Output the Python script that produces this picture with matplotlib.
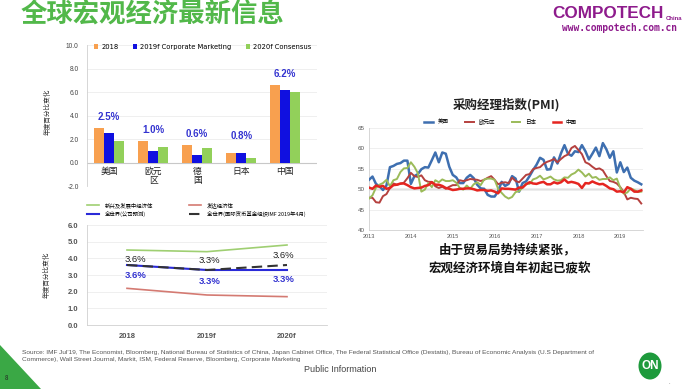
import matplotlib
matplotlib.use("Agg")
import matplotlib.pyplot as plt
import matplotlib.patches as mpatches
import numpy as np

plt.rcParams["font.family"] = ["Noto Sans CJK SC", "DejaVu Sans"]

# ── GDP growth by region (bar chart) ──────────────────────────────────────
regions      = ["美国", "欧元\n区", "德\n国", "日本", "中国"]
gdp_series   = ["2018", "2019f Corporate Marketing", "2020f Consensus"]
gdp_2018     = [2.9, 1.8, 1.5, 0.8, 6.6]
gdp_2019f    = [2.5, 1.0, 0.6, 0.8, 6.2]
gdp_2020f    = [1.8, 1.3, 1.2, 0.4, 6.0]
gdp_callouts = ["2.5%", "1.0%", "0.6%", "0.8%", "6.2%"]

# ── World growth (line chart) ─────────────────────────────────────────────
years      = ["2018", "2019f", "2020f"]
emerging   = [4.5, 4.4, 4.8]
advanced   = [2.2, 1.8, 1.7]
world_corp = [3.6, 3.3, 3.3]
world_imf  = [3.6, 3.3, 3.6]
line_names = ["新兴及发展中经济体", "全世界(公司预测)", "发达经济体",
              "全世界(国际货币基金组织IMF 2019年4月)"]

# ── Manufacturing PMI, monthly Jan 2013 - Jul 2019 ────────────────────────
pmi_years = ["2013", "2014", "2015", "2016", "2017", "2018", "2019"]
pmi_names = ["美国", "欧元区", "日本", "中国"]
pmi_us = [52.3, 53.1, 51.3, 50.7, 49.8, 50.9, 55.4, 55.7, 56.2, 56.4, 57.0, 57.0,
          51.3, 53.2, 53.7, 54.9, 55.4, 55.3, 57.1, 59.0, 56.6, 59.0, 58.7, 55.5,
          53.5, 52.9, 51.5, 51.5, 52.8, 53.5, 52.7, 51.1, 50.2, 50.1, 48.6, 48.2,
          48.2, 49.5, 51.8, 50.8, 51.3, 53.2, 52.6, 49.4, 51.5, 51.9, 53.2, 54.7,
          56.0, 57.7, 57.2, 54.8, 54.9, 57.8, 56.3, 58.8, 60.8, 58.7, 58.2, 59.3,
          59.1, 60.8, 59.3, 57.3, 58.7, 60.2, 58.1, 61.3, 59.8, 57.7, 59.3, 54.1,
          56.6, 54.2, 55.3, 52.8, 52.1, 51.7, 51.2]
pmi_ez = [47.9, 47.9, 46.8, 46.7, 48.3, 48.8, 50.3, 51.4, 51.1, 51.3, 51.6, 52.7,
          54.0, 53.2, 53.0, 53.4, 52.2, 51.8, 51.8, 50.7, 50.3, 50.6, 50.1, 50.6,
          51.0, 51.0, 52.2, 52.0, 52.2, 52.5, 52.4, 52.3, 52.0, 52.3, 52.8, 53.2,
          52.3, 51.2, 51.6, 51.7, 51.5, 52.8, 52.0, 51.7, 52.6, 53.5, 53.7, 54.9,
          55.2, 55.4, 56.2, 56.7, 57.0, 57.4, 56.6, 57.4, 58.1, 58.5, 60.1, 60.6,
          59.6, 58.6, 56.6, 56.2, 55.5, 54.9, 55.1, 54.6, 53.2, 52.0, 51.8, 51.4,
          50.5, 49.3, 47.5, 47.9, 47.7, 47.6, 46.5]
pmi_jp = [47.7, 48.5, 50.4, 51.1, 51.5, 52.3, 50.7, 52.2, 52.5, 54.2, 55.1, 55.2,
          56.6, 55.5, 53.9, 49.4, 49.9, 51.5, 50.5, 52.2, 51.7, 52.4, 52.0, 52.0,
          52.2, 51.6, 50.3, 49.9, 50.9, 50.1, 51.2, 51.7, 51.0, 52.4, 52.6, 52.6,
          52.3, 50.1, 49.1, 48.2, 47.7, 48.1, 49.3, 49.5, 50.4, 51.4, 51.3, 52.4,
          52.7, 53.3, 52.4, 52.7, 53.1, 52.4, 52.1, 52.2, 52.9, 52.8, 53.6, 54.0,
          54.8, 54.1, 53.1, 53.8, 52.8, 53.0, 52.3, 52.5, 52.5, 52.9, 52.2, 52.6,
          50.3, 48.9, 49.2, 50.2, 49.8, 49.3, 49.4]
pmi_cn = [50.4, 50.1, 50.9, 50.6, 50.8, 50.1, 50.3, 51.0, 51.1, 51.4, 51.4, 51.0,
          50.5, 50.2, 50.3, 50.4, 50.8, 51.0, 51.7, 51.1, 51.1, 50.8, 50.3, 50.1,
          49.8, 49.9, 50.1, 50.1, 50.2, 50.2, 50.0, 49.7, 49.8, 49.8, 49.6, 49.7,
          49.4, 49.0, 50.2, 50.1, 50.1, 50.0, 49.9, 50.4, 50.4, 51.2, 51.7, 51.4,
          51.3, 51.6, 51.8, 51.2, 51.2, 51.7, 51.4, 51.7, 52.4, 51.6, 51.8, 51.6,
          51.3, 50.3, 51.5, 51.4, 51.9, 51.5, 51.2, 51.3, 50.8, 50.2, 50.0, 49.4,
          49.5, 49.2, 50.5, 50.1, 49.4, 49.4, 49.7]

source_text = ("Source: IMF Jul'19, The Economist, Bloomberg, National Bureau of Statistics of China, "
               "Japan Cabinet Office, The Federal Statistical Office (Destatis), Bureau of Economic "
               "Analysis (U.S Department of\nCommerce), Wall Street Journal, Markit, ISM, Federal "
               "Reserve, Bloomberg, Corporate Marketing")

W, H = 692, 389
GREEN_TITLE = "#52b84a"
PURPLE = "#8e1b8c"
SANS = ["Liberation Sans", "DejaVu Sans"]


def fx(px):
    return px / W


def fy(py):
    return 1 - py / H


fig = plt.figure(figsize=(6.92, 3.89), dpi=100)
fig.patch.set_facecolor("white")

# ── Header ────────────────────────────────────────────────────────────────
fig.text(fx(21), fy(15), "全球宏观经济最新信息", fontsize=19, fontweight="bold",
         color=GREEN_TITLE, ha="left", va="center")
fig.text(fx(552), fy(13.5), "COMPOTECH", fontsize=12.3, fontweight="bold", color=PURPLE,
         family=SANS, ha="left", va="center")
fig.text(fx(666), fy(18), "China", fontsize=4.3, fontweight="bold", color=PURPLE,
         ha="left", va="center", family=SANS)
fig.text(fx(620), fy(28), "www.compotech.com.cn", fontsize=6.9, fontweight="bold",
         color=PURPLE, ha="center", va="center", family=["DejaVu Sans Mono"])

# ── Bar chart: GDP growth ─────────────────────────────────────────────────
ax1 = fig.add_axes([fx(87), fy(186), fx(230), 141 / H])
x = np.arange(len(regions))
bw = 0.23
bar_colors = ["#f8a04f", "#1010e0", "#92d05a"]
for k, (vals, col) in enumerate(zip([gdp_2018, gdp_2019f, gdp_2020f], bar_colors)):
    ax1.bar(x + (k - 1) * bw, vals, width=bw, color=col, label=gdp_series[k], zorder=3)

for i, txt in enumerate(gdp_callouts):
    top = max(gdp_2018[i], gdp_2019f[i], gdp_2020f[i])
    ax1.text(x[i], max(top + 0.95, 2.25), txt, ha="center", va="center", fontsize=7,
             fontweight="bold", color="#3333d0", family=SANS)

for i, lab in enumerate(regions):
    ax1.text(x[i], -0.35, lab, ha="center", va="top", fontsize=6.3, color="#222222",
             linespacing=1.0)

ax1.set_xlim(-0.5, 4.72)
ax1.set_ylim(-2, 10)
ax1.set_yticks(np.arange(-2, 10.1, 2))
ax1.set_yticklabels([f"{v:.1f}" for v in np.arange(-2, 10.1, 2)], fontsize=4.8,
                    color="#444444", family=SANS)
ax1.set_xticks([])
ax1.tick_params(axis="y", length=0, pad=6)
ax1.grid(axis="y", color="#ececec", linewidth=0.6, zorder=0)
ax1.axhline(0, color="#c8c8c8", linewidth=0.8, zorder=2)
for s in ["top", "right", "bottom"]:
    ax1.spines[s].set_visible(False)
ax1.spines["left"].set_color("#d0d0d0")
ax1.spines["left"].set_linewidth(0.6)
ax1.legend(loc="lower left", bbox_to_anchor=(0.02, 0.945), ncol=3, frameon=False,
           handlelength=0.6, handleheight=0.6, handletextpad=0.4,
           columnspacing=2.2, borderaxespad=0, prop={"family": ["DejaVu Sans"], "size": 4.9})
fig.text(fx(48), fy(112), "年度百分比变化", rotation=90, fontsize=4.8, ha="center",
         va="center", color="#333333")

# ── Line chart: world growth ──────────────────────────────────────────────
ax2 = fig.add_axes([fx(87), fy(325), fx(240), 100 / H])
xi = np.arange(len(years))
l_em, = ax2.plot(xi, emerging, color="#9fcf72", linewidth=1.2, zorder=3)
l_ad, = ax2.plot(xi, advanced, color="#d47a72", linewidth=1.2, zorder=3)
l_wc, = ax2.plot(xi, world_corp, color="#2a2ad8", linewidth=1.5, zorder=3)
l_wi, = ax2.plot(xi, world_imf, color="#333333", linewidth=1.5, dashes=(5, 2.5), zorder=4)

imf_dy = [0.3, 0.55, 0.6]
corp_dy = [-0.6, -0.7, -0.6]
label_dx = [0.11, 0.03, -0.04]
for i in range(len(years)):
    ax2.text(xi[i] + label_dx[i], world_imf[i] + imf_dy[i], f"{world_imf[i]:.1f}%",
             ha="center", va="center", fontsize=6.8, color="#222222", family=SANS)
    ax2.text(xi[i] + label_dx[i], world_corp[i] + corp_dy[i], f"{world_corp[i]:.1f}%",
             ha="center", va="center", fontsize=6.8, color="#3333d0", fontweight="bold",
             family=SANS)

ax2.set_xlim(-0.5, 2.5)
ax2.set_ylim(0, 6)
ax2.set_yticks(np.arange(0, 6.1, 1))
ax2.set_yticklabels([f"{v:.1f}" for v in np.arange(0, 6.1, 1)], fontsize=5.5,
                    color="#555555", fontweight="bold", family=SANS)
ax2.set_xticks(xi)
ax2.set_xticklabels(years, fontsize=5.5, color="#555555", fontweight="bold", family=SANS)
ax2.tick_params(axis="both", length=0, pad=6)
ax2.grid(axis="y", color="#ececec", linewidth=0.6, zorder=0)
for s in ["top", "right"]:
    ax2.spines[s].set_visible(False)
for s in ["left", "bottom"]:
    ax2.spines[s].set_color("#d0d0d0")
    ax2.spines[s].set_linewidth(0.6)
ax2.legend([l_em, l_wc, l_ad, l_wi], line_names, ncol=2, loc="lower left",
           bbox_to_anchor=(-0.01, 1.06), frameon=False, fontsize=3.9, handlelength=2.2,
           handletextpad=1.2, columnspacing=6.5, labelspacing=0.45, borderaxespad=0)
fig.text(fx(47), fy(275), "年度百分比变化", rotation=90, fontsize=4.8, ha="center",
         va="center", color="#333333")

# ── PMI chart ─────────────────────────────────────────────────────────────
ax3 = fig.add_axes([fx(369), fy(230), fx(274), 102 / H])
months = np.arange(len(pmi_us))
ax3.axhline(50, color="#a8a8a8", linewidth=1.0, zorder=1)
pmi_colors = ["#3e6fb0", "#b5403e", "#9bbb59", "#e52520"]
pmi_widths = [1.8, 1.4, 1.4, 1.8]
for vals, col, lw, name in zip([pmi_us, pmi_ez, pmi_jp, pmi_cn], pmi_colors, pmi_widths, pmi_names):
    ax3.plot(months, vals, color=col, linewidth=lw, label=name, zorder=3,
             solid_joinstyle="round")
ax3.set_xlim(0, len(pmi_us) - 0.5)
ax3.set_ylim(40, 65)
ax3.set_yticks(np.arange(40, 66, 5))
ax3.set_yticklabels([str(v) for v in range(40, 66, 5)], fontsize=4.5, color="#555555",
                    family=SANS)
ax3.set_xticks(np.arange(0, len(pmi_us), 12))
ax3.set_xticklabels(pmi_years, fontsize=4, color="#555555", family=SANS)
ax3.tick_params(axis="both", length=0, pad=3)
ax3.grid(axis="y", color="#ececec", linewidth=0.6, zorder=0)
for s in ["top", "right"]:
    ax3.spines[s].set_visible(False)
for s in ["left", "bottom"]:
    ax3.spines[s].set_color("#d0d0d0")
    ax3.spines[s].set_linewidth(0.6)
ax3.legend(ncol=4, loc="lower center", bbox_to_anchor=(0.48, 1.0), frameon=False,
           fontsize=4, handlelength=1.6, handletextpad=0.8, columnspacing=3.0,
           borderaxespad=0.2)
fig.text(fx(506), fy(105), "采购经理指数(PMI)", fontsize=9, fontweight="bold",
         ha="center", va="center", color="#222222")

fig.text(fx(508), fy(250), "由于贸易局势持续紧张，", fontsize=9, fontweight="bold",
         ha="center", va="center", color="#111111")
fig.text(fx(510), fy(268), "宏观经济环境自年初起已疲软", fontsize=9, fontweight="bold",
         ha="center", va="center", color="#111111")

# ── Footer ────────────────────────────────────────────────────────────────
fig.add_artist(mpatches.Polygon([(0, fy(345)), (0, 0), (fx(41), 0)], closed=True,
                                transform=fig.transFigure, color="#3aa845", lw=0))
fig.text(fx(6), fy(378), "8", fontsize=4.5, color="#222222", ha="center", va="center")
fig.text(fx(22), fy(356), source_text, fontsize=4.65, color="#555555", ha="left",
         va="center", linespacing=1.45, family=SANS)
fig.text(fx(340), fy(370), "Public Information", fontsize=6.5, color="#444444",
         ha="center", va="center", family=SANS)
fig.add_artist(mpatches.Ellipse((fx(650), fy(366)), 23 / W, 27 / H,
                                transform=fig.transFigure, color="#1e9a3c", lw=0))
fig.text(fx(650), fy(366), "ON", fontsize=8.5, fontweight="bold", color="white",
         ha="center", va="center", family=SANS)
fig.text(fx(669), fy(382), ".", fontsize=4, color="#555555", ha="center", va="center")

fig.savefig("out.png", dpi=100)
